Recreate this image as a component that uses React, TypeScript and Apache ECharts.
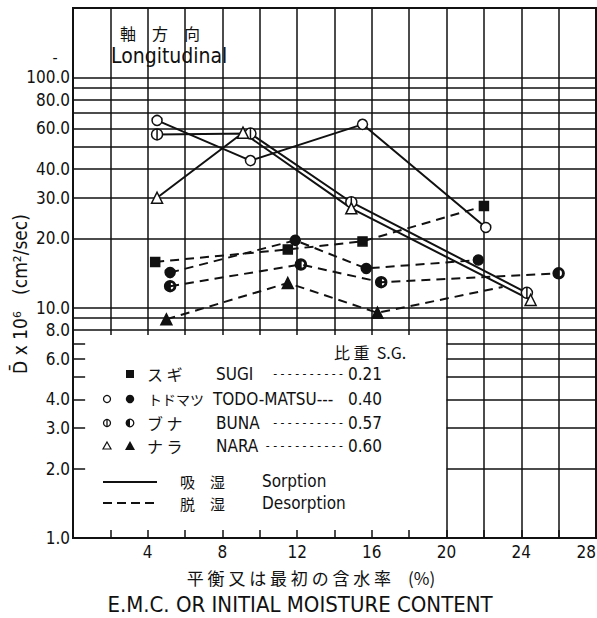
import React, { useEffect, useRef } from 'react';
import * as echarts from 'echarts';

// ---- data ----
const xLabelTicks = [4, 8, 12, 16, 20, 24, 28];
const yLabelValues = [100, 80, 60, 40, 30, 20, 10, 8, 6, 4, 3, 2];
const yLabelTexts = ['100.0', '80.0', '60.0', '40.0', '30.0', '20.0', '10.0', '8.0', '6.0', '4.0', '3.0', '2.0'];
const fullHLines = [100, 90, 80, 70, 60, 50, 40, 30, 20, 10, 9, 8];
const partialHLines = [7, 6, 5, 4, 3, 2];
const vLinesShort = [2, 4, 6, 8, 10, 12, 14, 16, 18];
const vLinesFull = [20, 22, 24, 26];

// sorption (solid, open markers)
const todoSorption = [[4.5, 65], [9.5, 43.5], [15.5, 62.5], [22.1, 22.3]];
const bunaSorption = [[4.5, 56.5], [9.5, 57], [14.9, 28.7], [24.3, 11.6]];
const naraSorption = [[4.5, 30], [9.1, 57.5], [14.9, 27], [24.5, 10.8]];
// desorption (dashed, filled markers)
const sugiDesorption = [[4.4, 15.8], [11.5, 17.9], [15.5, 19.4], [22.0, 27.6]];
const todoDesorption = [[5.2, 14.2], [11.9, 19.6], [15.7, 14.8], [21.7, 16.1]];
const bunaDesorption = [[5.2, 12.4], [12.2, 15.4], [16.5, 12.9], [26.0, 14.1]];
const naraDesorption = [[5.0, 8.9], [11.5, 12.8], [16.3, 9.5], [23.0, 12.3]];

const INK = '#111';
const NUM_FONT = "'Liberation Sans Narrow', 'DejaVu Sans Condensed', 'DejaVu Sans', sans-serif";
const LAT_FONT = "'DejaVu Sans Condensed', 'DejaVu Sans', sans-serif";
const JP_FONT = "'Noto Sans CJK JP', 'DejaVu Sans', sans-serif";

const PHI = 'path://M0,-5 L0,5 M-5,0 A5,5 0 1,1 5,0 A5,5 0 1,1 -5,0 Z';
const HALF = 'path://M0,-5 A5,5 0 1,1 0,5 A5,5 0 1,1 0,-5 Z M0,-3.7 A3.7,3.7 0 1,0 0,3.7 A3.7,3.7 0 1,0 0,-3.7 Z M0,-3.7 A3.7,3.7 0 0,0 0,3.7 Z';

function yLabel(v: number) {
  const idx = yLabelValues.indexOf(v);
  return idx >= 0
    ? { show: true, position: 'start', formatter: yLabelTexts[idx], color: INK, fontSize: 17, fontFamily: NUM_FONT, distance: 3 }
    : { show: false };
}

function buildMarkLines() {
  const line = { color: INK, width: 1.5, type: 'solid' as const };
  const data: any[] = [];
  fullHLines.forEach((v) => {
    data.push([{ coord: [0, v], lineStyle: line, label: v === 100 || v === 10 ? { show: false } : yLabel(v) }, { coord: [28, v] }]);
  });
  partialHLines.forEach((v) => {
    data.push([{ coord: [20, v], lineStyle: line, label: { show: false } }, { coord: [28, v] }]);
    data.push([{ coord: [0, v], lineStyle: line, label: yLabel(v) }, { coord: [0.65, v] }]);
  });
  vLinesShort.forEach((x) => {
    data.push([{ coord: [x, 7.6], lineStyle: line, label: { show: false } }, { coord: [x, 200] }]);
  });
  vLinesFull.forEach((x) => {
    data.push([{ coord: [x, 1], lineStyle: line, label: { show: false } }, { coord: [x, 200] }]);
  });
  return data;
}

function seriesOf(name: string, data: any[], symbol: string, fill: string, dashed: boolean, size = 10) {
  return {
    name,
    type: 'line',
    data,
    symbol,
    symbolSize: size,
    z: 5,
    itemStyle: { color: fill, borderColor: INK, borderWidth: 1.5 },
    lineStyle: { color: INK, width: 2, type: dashed ? [9, 6] : 'solid' },
    emphasis: { disabled: true },
  };
}

export default function App() {
  const ref = useRef<HTMLDivElement>(null);
  useEffect(() => {
    if (!ref.current) return;
    const chart = echarts.init(ref.current, undefined, { renderer: 'svg' });

    const legendRowY = [374, 399, 423, 446];
    const t = (x: number, y: number, text: string, fontSize: number, fontFamily: string, extra: any = {}) => ({
      type: 'text', x, y,
      style: { text, fontSize, fontFamily, fill: INK, textVerticalAlign: 'middle', ...extra },
    });
    const graphics: any[] = [
      // title inside plot
      t(120, 33, '軸　方　向', 16, JP_FONT),
      t(111, 56, 'Longitudinal', 21, LAT_FONT),
      t(55, 57, '-', 16, NUM_FONT, { textAlign: 'center' }),
      // y axis title
      {
        type: 'text', x: 20, y: 294, rotation: Math.PI / 2,
        style: { text: 'D\u0304 x 10\u2076   (cm\u00B2/sec)', fontSize: 19, fontFamily: LAT_FONT, fill: INK, textAlign: 'center', textVerticalAlign: 'middle' },
      },
      // x axis titles
      t(311, 577, '平 衡 又 は 最 初 の 含 水 率　(%)', 17, JP_FONT, { textAlign: 'center' }),
      t(300, 604, 'E.M.C. OR INITIAL MOISTURE CONTENT', 22, LAT_FONT, { textAlign: 'center' }),
      // legend header
      t(334, 352, '比 重  S.G.', 16, JP_FONT),
      // legend markers
      { type: 'rect', shape: { x: 126, y: legendRowY[0] - 4, width: 8, height: 8 }, style: { fill: INK } },
      { type: 'circle', shape: { cx: 107, cy: legendRowY[1], r: 3.5 }, style: { fill: '#fff', stroke: INK, lineWidth: 1.3 } },
      { type: 'circle', shape: { cx: 130, cy: legendRowY[1], r: 4.2 }, style: { fill: INK } },
      { type: 'circle', shape: { cx: 107, cy: legendRowY[2], r: 3.5 }, style: { fill: '#fff', stroke: INK, lineWidth: 1.3 } },
      { type: 'line', shape: { x1: 107, y1: legendRowY[2] - 3.5, x2: 107, y2: legendRowY[2] + 3.5 }, style: { stroke: INK, lineWidth: 1.3 } },
      { type: 'circle', shape: { cx: 130, cy: legendRowY[2], r: 3.8 }, style: { fill: '#fff', stroke: INK, lineWidth: 1.3 } },
      { type: 'sector', shape: { cx: 130, cy: legendRowY[2], r: 3.8, r0: 0, startAngle: Math.PI / 2, endAngle: Math.PI * 1.5 }, style: { fill: INK } },
      { type: 'polygon', shape: { points: [[107, legendRowY[3] - 4], [111, legendRowY[3] + 3], [103, legendRowY[3] + 3]] }, style: { fill: '#fff', stroke: INK, lineWidth: 1.2 } },
      { type: 'polygon', shape: { points: [[130, legendRowY[3] - 5], [135, legendRowY[3] + 4], [125, legendRowY[3] + 4]] }, style: { fill: INK } },
      // legend names
      t(147, legendRowY[0], 'ス ギ', 16, JP_FONT),
      t(148, legendRowY[1], 'トドマツ', 14, JP_FONT),
      t(147, legendRowY[2], 'ブ ナ', 16, JP_FONT),
      t(147, legendRowY[3], 'ナ ラ', 16, JP_FONT),
      t(216, legendRowY[0], 'SUGI', 17, LAT_FONT),
      t(213, legendRowY[1], 'TODO-MATSU---', 17, LAT_FONT),
      t(216, legendRowY[2], 'BUNA', 17, LAT_FONT),
      t(216, legendRowY[3], 'NARA', 17, LAT_FONT),
      t(343, legendRowY[0], '- - - - - - - - - -', 12, LAT_FONT, { textAlign: 'right' }),
      t(343, legendRowY[2], '- - - - - - - - - -', 12, LAT_FONT, { textAlign: 'right' }),
      t(343, legendRowY[3], '- - - - - - - - - - -', 12, LAT_FONT, { textAlign: 'right' }),
      t(348, legendRowY[0], '0.21', 17, LAT_FONT),
      t(348, legendRowY[1], '0.40', 17, LAT_FONT),
      t(348, legendRowY[2], '0.57', 17, LAT_FONT),
      t(348, legendRowY[3], '0.60', 17, LAT_FONT),
      // line-style legend
      { type: 'line', shape: { x1: 103, y1: 482, x2: 157, y2: 482 }, style: { stroke: INK, lineWidth: 2 } },
      { type: 'line', shape: { x1: 103, y1: 503, x2: 157, y2: 503 }, style: { stroke: INK, lineWidth: 2, lineDash: [9, 5] } },
      t(180, 481, '吸　湿', 15, JP_FONT),
      t(180, 503, '脱　湿', 15, JP_FONT),
      t(262, 481, 'Sorption', 17, LAT_FONT),
      t(262, 503, 'Desorption', 17, LAT_FONT),
    ];

    chart.setOption({
      animation: false,
      backgroundColor: '#fff',
      grid: {
        left: 73, right: 1, top: 8, bottom: 80, outerBoundsMode: 'none', containLabel: false,
        show: true, borderColor: INK, borderWidth: 2, backgroundColor: 'transparent',
      },
      xAxis: {
        type: 'value', min: 0, max: 28, interval: 2,
        axisLine: { show: true, lineStyle: { color: INK, width: 2 } },
        axisTick: { show: true, inside: true, length: 8, lineStyle: { color: INK, width: 1.5 } },
        splitLine: { show: false },
        axisLabel: {
          color: INK, fontSize: 17, fontFamily: NUM_FONT, margin: 5, hideOverlap: false, alignMaxLabel: 'right',
          formatter: (v: number) => (xLabelTicks.includes(v) ? String(v) : ''),
        },
      },
      yAxis: {
        type: 'log', logBase: 10, min: 1, max: 200,
        axisLine: { show: true, lineStyle: { color: INK, width: 2 } },
        axisTick: { show: false },
        splitLine: { show: false },
        minorTick: { show: false },
        axisLabel: {
          color: INK, fontSize: 17, fontFamily: NUM_FONT, margin: 3,
          formatter: (v: number) => (v === 1 || v === 10 || v === 100 ? v.toFixed(1) : ''),
        },
      },
      graphic: graphics,
      series: [
        {
          name: 'grid', type: 'line', data: [], z: 1, silent: true,
          markLine: { silent: true, symbol: ['none', 'none'], animation: false, data: buildMarkLines(), label: { show: false } },
        },
        seriesOf('TODO-MATSU sorption', todoSorption, 'circle', '#fff', false, 10),
        seriesOf('BUNA sorption', bunaSorption, PHI, '#fff', false, 11),
        seriesOf('NARA sorption', naraSorption, 'triangle', '#fff', false, 11),
        seriesOf('SUGI desorption', sugiDesorption, 'rect', INK, true, 9),
        seriesOf('TODO-MATSU desorption', todoDesorption, 'circle', INK, true, 10),
        seriesOf('BUNA desorption', bunaDesorption, HALF, INK, true, 11),
        seriesOf('NARA desorption', naraDesorption.map((p, i) => (i === naraDesorption.length - 1 ? { value: p, symbol: 'none' } : p)), 'triangle', INK, true, 11),
      ],
    });
    return () => chart.dispose();
  }, []);
  return <div ref={ref} style={{ position: 'absolute', left: 0, top: 0, width: 597, height: 618 }} />;
}
